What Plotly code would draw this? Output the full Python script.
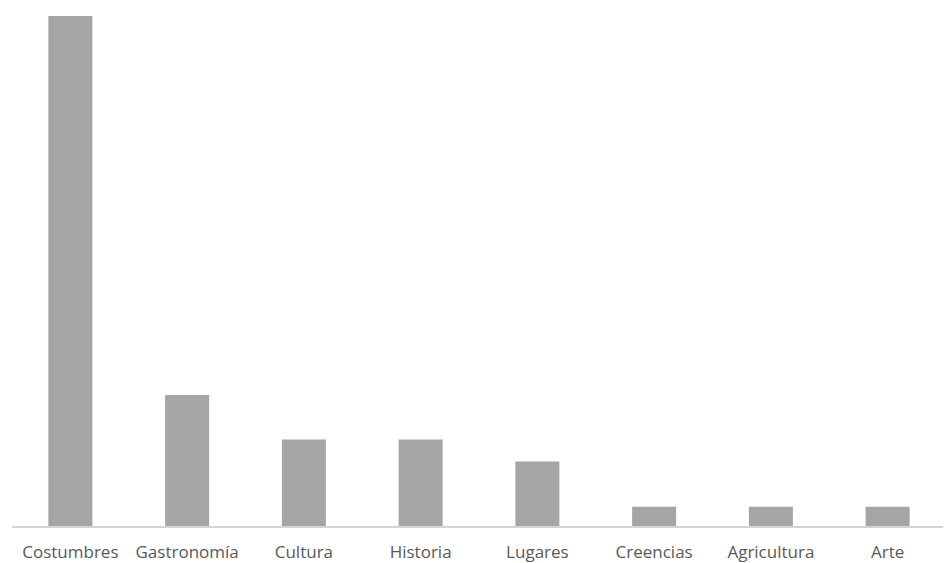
import plotly.graph_objects as go

categorias = ['Costumbres', 'Gastronomía', 'Cultura', 'Historia', 'Lugares',
              'Creencias', 'Agricultura', 'Arte']
valores = [79, 20.3, 13.4, 13.4, 10, 3, 3, 3]

fig = go.Figure()
fig.add_trace(go.Bar(
    x=categorias,
    y=valores,
    marker=dict(color='#a5a5a5', line=dict(width=0)),
    width=0.377,
))

# the page body has an 8px margin, so the figure is a bit smaller than the window
fig.update_layout(
    width=943, height=555,
    margin=dict(l=4, r=5, t=8, b=36.5),
    paper_bgcolor='white',
    plot_bgcolor='white',
    showlegend=False,
    font=dict(family='Open Sans', size=17, color='#595959'),
)
fig.update_xaxes(
    showline=True, linecolor='#d4d4d4', linewidth=1.5,
    showgrid=False, zeroline=False, automargin=False,
    ticks='outside', ticklen=10, tickcolor='rgba(0,0,0,0)',
    tickfont=dict(family='Open Sans', size=17, color='#595959'),
)
fig.update_yaxes(
    range=[0, 79], visible=False, showgrid=False, zeroline=False,
)

fig.write_html('out.html')
